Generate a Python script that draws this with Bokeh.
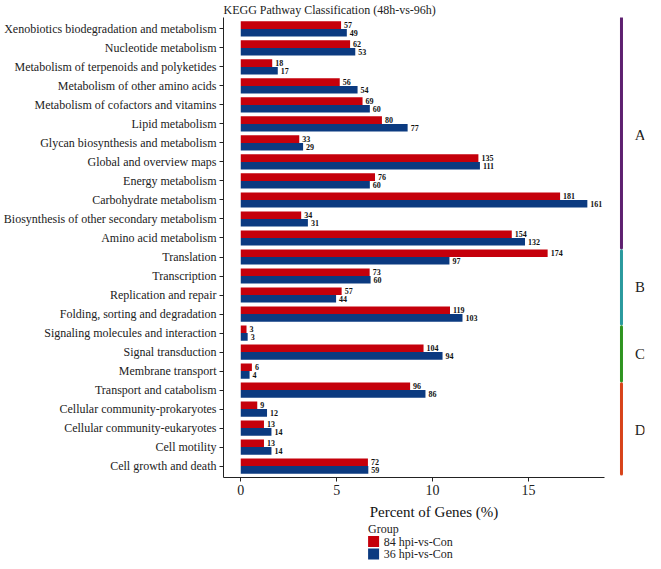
import numpy as np
from bokeh.plotting import figure
from bokeh.layouts import column
from bokeh.models import Range1d, FixedTicker, ColumnDataSource
from bokeh.core.properties import value
from bokeh.embed import file_html
from bokeh.resources import INLINE

# ---------------- data ----------------
categories = [
    "Xenobiotics biodegradation and metabolism",
    "Nucleotide metabolism",
    "Metabolism of terpenoids and polyketides",
    "Metabolism of other amino acids",
    "Metabolism of cofactors and vitamins",
    "Lipid metabolism",
    "Glycan biosynthesis and metabolism",
    "Global and overview maps",
    "Energy metabolism",
    "Carbohydrate metabolism",
    "Biosynthesis of other secondary metabolism",
    "Amino acid metabolism",
    "Translation",
    "Transcription",
    "Replication and repair",
    "Folding, sorting and degradation",
    "Signaling molecules and interaction",
    "Signal transduction",
    "Membrane transport",
    "Transport and catabolism",
    "Cellular community-prokaryotes",
    "Cellular community-eukaryotes",
    "Cell motility",
    "Cell growth and death",
]
pct_84 = [5.23, 5.70, 1.64, 5.16, 6.35, 7.36, 3.05, 12.39, 7.00, 16.65, 3.15, 14.13,
          16.00, 6.72, 5.26, 10.91, 0.30, 9.53, 0.58, 8.83, 0.86, 1.21, 1.21, 6.63]
pct_36 = [5.53, 5.97, 1.93, 6.09, 6.73, 8.70, 3.25, 12.47, 6.73, 18.07, 3.50, 14.82,
          10.88, 6.77, 4.97, 11.56, 0.36, 10.52, 0.46, 9.63, 1.37, 1.60, 1.60, 6.65]
cnt_84 = [57, 62, 18, 56, 69, 80, 33, 135, 76, 181, 34, 154,
          174, 73, 57, 119, 3, 104, 6, 96, 9, 13, 13, 72]
cnt_36 = [49, 53, 17, 54, 60, 77, 29, 111, 60, 161, 31, 132,
          97, 60, 44, 103, 3, 94, 4, 86, 12, 14, 14, 59]
series_names = ["84 hpi-vs-Con", "36 hpi-vs-Con"]
series_colors = ["#C5000B", "#0B3A80"]
group_names = ["A", "B", "C", "D"]
group_sizes = [12, 4, 3, 5]
group_colors = ["#5E2070", "#2A9A9E", "#2F9420", "#D8431A"]
x_ticks = [0, 5, 10, 15]
title_text = "KEGG Pathway Classification (48h-vs-96h)"
x_label = "Percent of Genes (%)"
legend_title = "Group"

# ---------------- main figure ----------------
FONT = "Liberation Serif"
n = len(categories)
rows = np.arange(n, 0, -1).astype(float)   # first category on top
X_MIN, X_AXIS_END, X_MAX = -0.9, 18.97, 21.05
STRIP_X, LETTER_X = 19.85, 20.82

p = figure(frame_width=421, frame_height=460, output_backend="svg", toolbar_location=None,
           x_range=Range1d(X_MIN, X_MAX), y_range=Range1d(0.4, n + 0.6),
           title=title_text,
           min_border_left=0, min_border_right=2, min_border_top=0, min_border_bottom=0)
p.outline_line_color = None
p.xgrid.visible = False
p.ygrid.visible = False

p.title.text_font = FONT
p.title.text_font_size = "12px"
p.title.text_font_style = "normal"
p.title.text_color = "#222222"
p.title.align = "left"
p.title.standoff = 1

half = 0.2
src_r = ColumnDataSource(dict(y=rows + half, right=pct_84, cnt=[str(c) for c in cnt_84]))
src_b = ColumnDataSource(dict(y=rows - half, right=pct_36, cnt=[str(c) for c in cnt_36]))

p.hbar(y="y", left=0, right="right", height=2 * half, source=src_r,
       fill_color=series_colors[0], line_color=None)
p.hbar(y="y", left=0, right="right", height=2 * half, source=src_b,
       fill_color=series_colors[1], line_color=None)

for src in (src_r, src_b):
    p.text(x="right", y="y", text="cnt", source=src, x_offset=3,
           text_align="left", text_baseline="middle",
           text_font=value(FONT), text_font_size="8px", text_font_style="bold",
           text_color="#111111")

# group strips on the right
tops, bottoms, centers = [], [], []
i0 = 0
for g, size in enumerate(group_sizes):
    i1 = i0 + size - 1
    first_row, last_row = rows[i0], rows[i1]
    top = n + 0.6 if g == 0 else first_row + 0.33
    bottom = last_row - 0.42 if g == len(group_sizes) - 1 else last_row - 0.52
    tops.append(top)
    bottoms.append(bottom)
    centers.append(float(np.mean(rows[i0:i1 + 1])) - 0.1)
    i0 = i1 + 1

p.segment(x0=[STRIP_X] * len(group_names), x1=[STRIP_X] * len(group_names),
          y0=tops, y1=bottoms, line_color=group_colors, line_width=3, line_cap="round")
p.text(x=[LETTER_X] * len(group_names), y=centers, text=group_names,
       text_align="center", text_baseline="middle",
       text_font=value(FONT), text_font_size="15px", text_color="#222222")

# axes
xa = p.xaxis[0]
xa.ticker = FixedTicker(ticks=x_ticks)
xa.bounds = (X_MIN, X_AXIS_END)
xa.axis_label = x_label
xa.axis_label_text_font = FONT
xa.axis_label_text_font_size = "15px"
xa.axis_label_text_font_style = "normal"
xa.axis_label_text_color = "#111111"
xa.axis_label_standoff = 6
xa.major_label_text_font = FONT
xa.major_label_text_font_size = "14px"
xa.major_label_text_color = "#222222"
xa.major_label_standoff = 3
xa.major_tick_out = 4
xa.major_tick_in = 0
xa.minor_tick_line_color = None
xa.axis_line_color = "#222222"
xa.major_tick_line_color = "#222222"

ya = p.yaxis[0]
ya.ticker = FixedTicker(ticks=[float(r) for r in rows])
ya.major_label_overrides = {float(r): c for r, c in zip(rows, categories)}
ya.major_label_text_font = FONT
ya.major_label_text_font_size = "12px"
ya.major_label_text_color = "#222222"
ya.major_label_standoff = 3
ya.major_tick_out = 4
ya.major_tick_in = 0
ya.minor_tick_line_color = None
ya.axis_line_color = "#222222"
ya.major_tick_line_color = "#222222"

# ---------------- legend strip (separate small figure) ----------------
LW, LH = 645, 38
lg = figure(width=LW, height=LH, output_backend="svg", toolbar_location=None,
            x_range=Range1d(0, LW), y_range=Range1d(LH, 0),
            x_axis_location=None, y_axis_location=None,
            min_border_left=0, min_border_right=0, min_border_top=0, min_border_bottom=0)
lg.outline_line_color = None
lg.xgrid.visible = False
lg.ygrid.visible = False
LX = 222
lg.text(x=[LX], y=[6], text=[legend_title], text_align="left", text_baseline="middle",
        text_font=value(FONT), text_font_size="12px", text_color="#222222")
item_y = [19 + 12.5 * i for i in range(len(series_names))]
lg.rect(x=[LX + 8.5] * len(series_names), y=item_y, width=11, height=11,
        width_units="screen", height_units="screen",
        fill_color=series_colors, line_color=None)
lg.text(x=[LX + 24] * len(series_names), y=item_y, text=series_names,
        text_align="left", text_baseline="middle",
        text_font=value(FONT), text_font_size="12px", text_color="#222222")

open("out.html", "w").write(file_html(column(p, lg, spacing=0), INLINE))
